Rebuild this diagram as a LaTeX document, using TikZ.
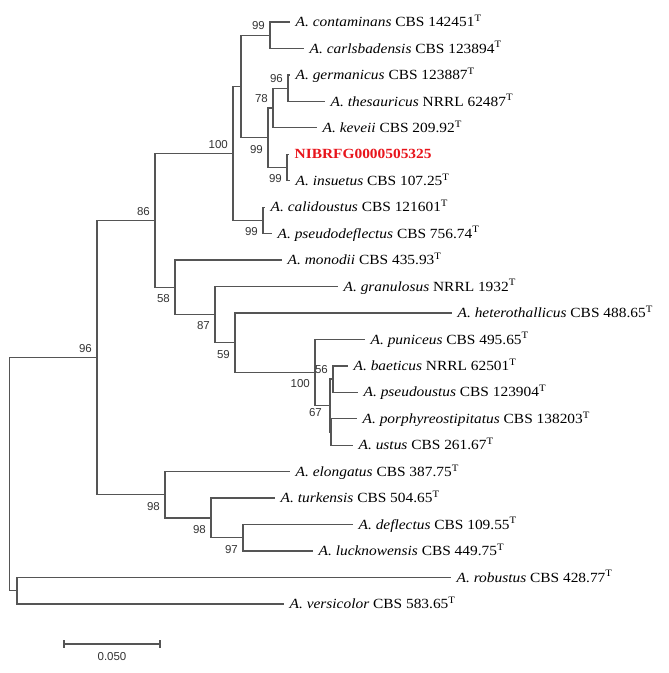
\documentclass[tikz,border=0pt]{standalone}
\usepackage{fontspec}
\setmainfont{Liberation Serif}[FakeStretch=1.1]
\setsansfont{Liberation Sans}
\usetikzlibrary{positioning}
\definecolor{branchgray}{HTML}{555555}
\definecolor{bsgray}{HTML}{333333}
\definecolor{queryred}{HTML}{E8141B}
\newcommand{\taxon}[2]{\textit{A. #1} #2\textsuperscript{T}}

\begin{document}
\begin{tikzpicture}[x=1pt, y=-1pt,
    font=\fontsize{14}{16}\selectfont,
    branch/.style={draw=branchgray, line width=1.3pt},
    leaf/.style={anchor=west, inner xsep=5.5pt, inner ysep=0pt, text height=9.2pt, text depth=0pt},
    bsnum/.style={inner sep=0pt, text=bsgray, font=\sffamily\fontsize{11.5}{12}\selectfont},
    bsup/.style={bsnum, anchor=south east, xshift=-5pt, yshift=5pt},
    bsdown/.style={bsnum, anchor=north east, xshift=-5pt, yshift=-7pt},
]
\useasboundingbox (0,0) rectangle (669,673);

% inner nodes
\coordinate (root) at (9.5,474.2);
\coordinate (nRV)  at (17,590.7);
\coordinate (n96)  at (97,357.7);
\coordinate (n86)  at (155,220.5);
\coordinate (n100a) at (233,153.5);
\coordinate (nA)   at (241,86.5);
\coordinate (n99a) at (270,35.2);
\coordinate (n99c) at (268,137.8);
\coordinate (n78)  at (273,108.0);
\coordinate (n96b) at (288,88.2);
\coordinate (n99d) at (287,167.5);
\coordinate (n99e) at (263,220.4);
\coordinate (n58)  at (175,287.4);
\coordinate (n87)  at (215,314.7);
\coordinate (n59)  at (235,342.8);
\coordinate (n100b) at (315,372.5);
\coordinate (n67)  at (330,405.6);
\coordinate (n56)  at (333,379.1);
\coordinate (nZ)   at (331,432.0);
\coordinate (n98a) at (165,494.8);
\coordinate (n98b) at (211,518.0);
\coordinate (n97)  at (243,537.8);

% leaves
\node[leaf] (contam)    at (290,22.0)  {\taxon{contaminans}{CBS 142451}};
\node[leaf] (carls)     at (304,48.5)  {\taxon{carlsbadensis}{CBS 123894}};
\node[leaf] (germ)      at (290,74.9)  {\taxon{germanicus}{CBS 123887}};
\node[leaf] (thes)      at (325,101.4) {\taxon{thesauricus}{NRRL 62487}};
\node[leaf] (keveii)    at (317,127.8) {\taxon{keveii}{CBS 209.92}};
\node[leaf, text=queryred, font=\fontsize{14}{16}\selectfont\bfseries] (nibr) at (289,154.3) {NIBRFG0000505325};
\node[leaf] (insuet)    at (290,180.7) {\taxon{insuetus}{CBS 107.25}};
\node[leaf] (calid)     at (265,207.2) {\taxon{calidoustus}{CBS 121601}};
\node[leaf] (pdefl)     at (272,233.6) {\taxon{pseudodeflectus}{CBS 756.74}};
\node[leaf] (monodii)   at (282,260.1) {\taxon{monodii}{CBS 435.93}};
\node[leaf] (granul)    at (338,286.5) {\taxon{granulosus}{NRRL 1932}};
\node[leaf] (hetero)    at (452,313.0) {\taxon{heterothallicus}{CBS 488.65}};
\node[leaf] (punic)     at (365,339.4) {\taxon{puniceus}{CBS 495.65}};
\node[leaf] (baet)      at (348,365.9) {\taxon{baeticus}{NRRL 62501}};
\node[leaf] (pust)      at (358,392.3) {\taxon{pseudoustus}{CBS 123904}};
\node[leaf] (porph)     at (357,418.8) {\taxon{porphyreostipitatus}{CBS 138203}};
\node[leaf] (ustus)     at (353,445.2) {\taxon{ustus}{CBS 261.67}};
\node[leaf] (elong)     at (290,471.7) {\taxon{elongatus}{CBS 387.75}};
\node[leaf] (turk)      at (275,498.1) {\taxon{turkensis}{CBS 504.65}};
\node[leaf] (defl)      at (353,524.6) {\taxon{deflectus}{CBS 109.55}};
\node[leaf] (luck)      at (313,551.0) {\taxon{lucknowensis}{CBS 449.75}};
\node[leaf] (robust)    at (451,577.5) {\taxon{robustus}{CBS 428.77}};
\node[leaf] (versic)    at (284,603.9) {\taxon{versicolor}{CBS 583.65}};

\foreach \p/\c in {root/n96, root/nRV, nRV/robust, nRV/versic,
    n96/n86, n96/n98a, n86/n100a, n86/n58,
    n100a/nA, n100a/n99e, nA/n99a, nA/n99c, n99a/contam, n99a/carls,
    n99c/n78, n99c/n99d, n78/n96b, n78/keveii, n96b/germ, n96b/thes,
    n99d/nibr, n99d/insuet, n99e/calid, n99e/pdefl,
    n58/monodii, n58/n87, n87/granul, n87/n59, n59/hetero, n59/n100b,
    n100b/punic, n100b/n67, n67/n56, n67/nZ, n56/baet, n56/pust, nZ/porph, nZ/ustus,
    n98a/elong, n98a/n98b, n98b/turk, n98b/n97, n97/defl, n97/luck}
  \draw[branch] (\p) |- (\c);

% bootstrap values
\node[bsup]   (b96)   at (n96)   {96};
\node[bsup]   (b86)   at (n86)   {86};
\node[bsup]   (b100a) at (n100a) {100};
\node[bsup]   (b99a)  at (n99a)  {99};
\node[bsup]   (b78)   at (n78)   {78};
\node[bsup]   (b96b)  at (n96b)  {96};
\node[bsdown] (b99c)  at (n99c)  {99};
\node[bsdown] (b99d)  at (n99d)  {99};
\node[bsdown] (b99e)  at (n99e)  {99};
\node[bsdown] (b58)   at (n58)   {58};
\node[bsdown] (b87)   at (n87)   {87};
\node[bsdown] (b59)   at (n59)   {59};
\node[bsdown] (b100b) at (n100b) {100};
\node[bsup]   (b56)   at (n56)   {56};
\node[bsdown, xshift=-3pt, yshift=4pt] (b67) at (n67) {67};
\node[bsdown] (b98a)  at (n98a)  {98};
\node[bsdown] (b98b)  at (n98b)  {98};
\node[bsdown] (b97)   at (n97)   {97};

% scale bar
\coordinate (sbL) at (64,644);
\coordinate (sbM) at (112,644);
\coordinate (sbR) at (160,644);
\draw[branch] (sbL) -- (sbR);
\draw[branch] ([yshift=4pt]sbL) -- ([yshift=-4pt]sbL);
\draw[branch] ([yshift=4pt]sbR) -- ([yshift=-4pt]sbR);
\node[bsnum, below=8pt of sbM] (sblabel) {0.050};
\end{tikzpicture}
\end{document}
